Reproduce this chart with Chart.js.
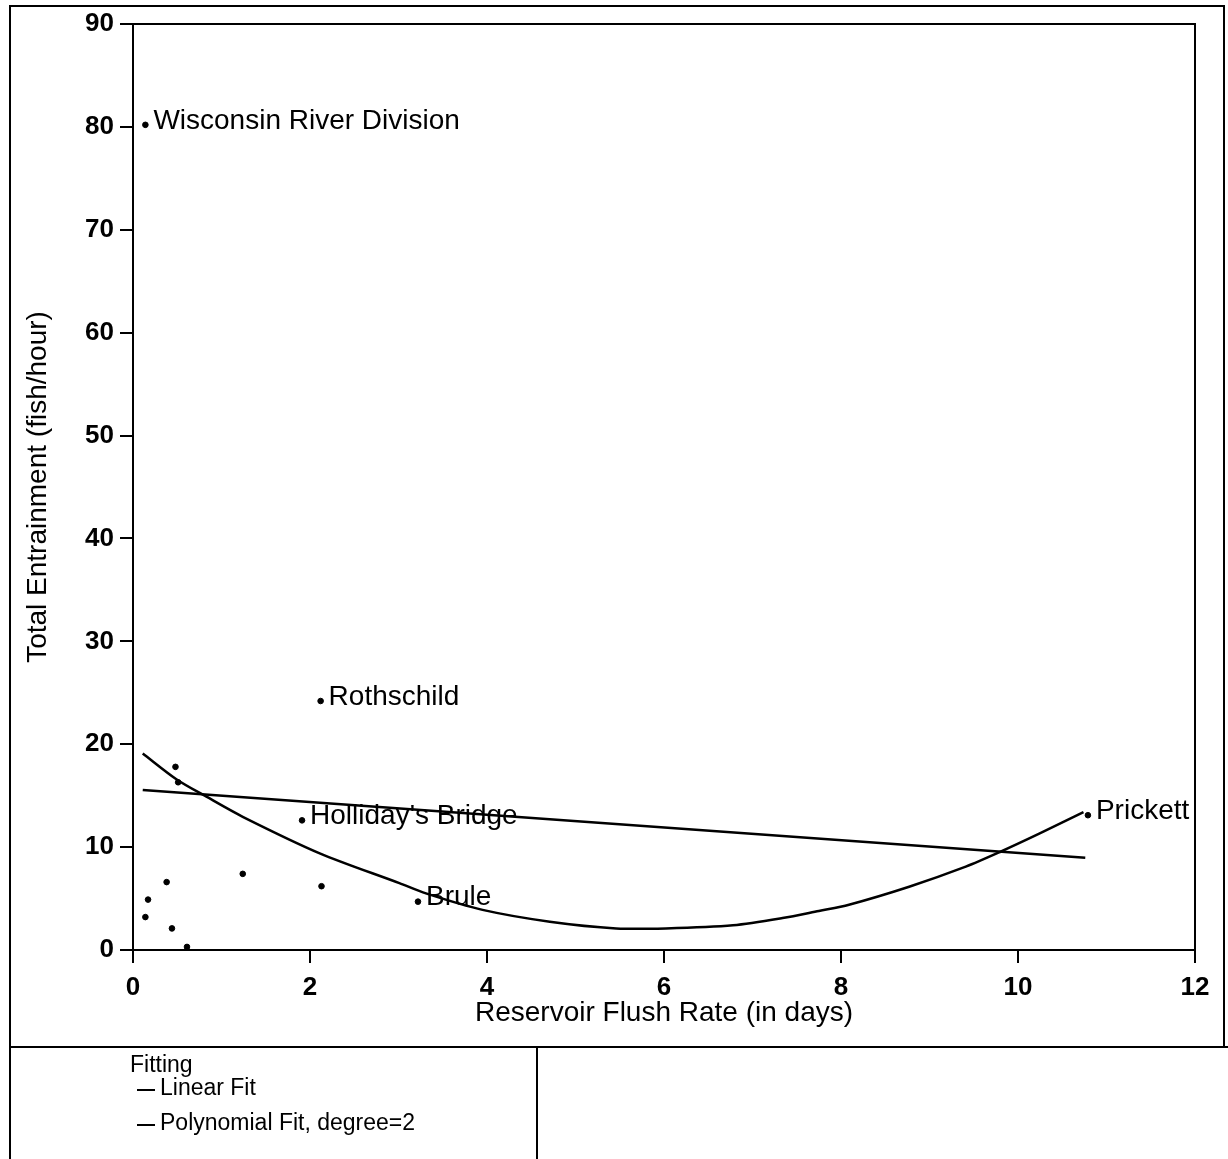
<!DOCTYPE html>
<html>
<head>
<meta charset="utf-8">
<script src="https://cdn.jsdelivr.net/npm/chart.js@4"></script>
<style>
  body { margin: 0; background: #fff; }
  #wrap { position: relative; width: 1228px; height: 1159px; }
</style>
</head>
<body>
<div id="wrap"><canvas id="chart"></canvas></div>
<script>
// Observed sites: flush rate (days) vs total entrainment (fish/hour)
const flushRate   = [0.14, 2.12, 1.91, 3.22, 10.79, 0.48, 0.51, 0.38, 0.17, 0.14, 0.44, 0.61, 1.24, 2.13];
const entrainment = [80.2, 24.2, 12.6, 4.7, 13.1, 17.8, 16.3, 6.6, 4.9, 3.2, 2.1, 0.3, 7.4, 6.2];
const siteNames   = ['Wisconsin River Division', 'Rothschild', "Holliday's Bridge", 'Brule', 'Prickett',
                     '', '', '', '', '', '', '', '', ''];

// Fitted lines
const linearX = [0.11, 10.76];
const linearY = [15.55, 8.97];
const polyX = [0.11, 0.49, 0.83, 1.24, 2.11, 3.01, 3.31, 3.95, 4.71, 5.46, 6.02, 6.78, 7.34, 7.75, 8.09, 8.77, 9.41, 9.79, 10.24, 10.74];
const polyY = [19.1, 16.6, 14.9, 12.95, 9.4, 6.5, 5.5, 3.9, 2.75, 2.1, 2.1, 2.4, 3.1, 3.8, 4.4, 6.15, 8.1, 9.5, 11.3, 13.4];

const xTicks = [0, 2, 4, 6, 8, 10, 12];
const yTicks = [0, 10, 20, 30, 40, 50, 60, 70, 80, 90];

const legendTitle = 'Fitting';
const legendItems = ['Linear Fit', 'Polynomial Fit, degree=2'];

const FONT = '"Liberation Sans", Arial, Helvetica, sans-serif';
Chart.defaults.font.family = FONT;
Chart.defaults.color = '#000';

const zip = (xs, ys) => xs.map((x, i) => ({ x: x, y: ys[i] }));

// Frame lines, point labels and the legend panel
const decorPlugin = {
    id: 'decor',
    afterDraw(chart) {
        const ctx = chart.ctx;
        const a = chart.chartArea;
        ctx.save();
        ctx.strokeStyle = '#000';
        ctx.lineWidth = 2;

        // top and right edges of the plot box
        ctx.beginPath();
        ctx.moveTo(a.left, a.top);
        ctx.lineTo(a.right, a.top);
        ctx.lineTo(a.right, a.bottom);
        ctx.stroke();

        // outer frame + legend panel
        ctx.beginPath();
        ctx.moveTo(10, 1159);
        ctx.lineTo(10, 6);
        ctx.lineTo(1224, 6);
        ctx.lineTo(1224, 1047);
        ctx.moveTo(10, 1047);
        ctx.lineTo(1228, 1047);
        ctx.moveTo(537, 1047);
        ctx.lineTo(537, 1159);
        ctx.stroke();

        // site names next to their points
        ctx.fillStyle = '#000';
        ctx.font = '28px ' + FONT;
        ctx.textBaseline = 'middle';
        ctx.textAlign = 'left';
        const pts = chart.getDatasetMeta(0).data;
        siteNames.forEach((name, i) => {
            if (!name) return;
            ctx.fillText(name, pts[i].x + 8, pts[i].y - 4);
        });

        // legend
        ctx.font = '23px ' + FONT;
        ctx.fillText(legendTitle, 130, 1066);
        const rowY = [1089, 1124];
        legendItems.forEach((label, i) => {
            ctx.beginPath();
            ctx.moveTo(137, rowY[i] + 1);
            ctx.lineTo(155, rowY[i] + 1);
            ctx.stroke();
            ctx.fillText(label, 160, rowY[i]);
        });
        ctx.restore();
    }
};

const axisGrid = {
    drawOnChartArea: false,
    drawTicks: true,
    tickLength: 13,
    color: '#000',
    lineWidth: 2
};

new Chart(document.getElementById('chart'), {
    type: 'scatter',
    data: {
        datasets: [
            {
                label: 'Sites',
                data: zip(flushRate, entrainment),
                backgroundColor: '#000',
                borderColor: '#000',
                pointRadius: 2.8,
                pointHoverRadius: 2.8,
                showLine: false
            },
            {
                label: legendItems[0],
                data: zip(linearX, linearY),
                showLine: true,
                borderColor: '#000',
                borderWidth: 2.5,
                pointRadius: 0,
                fill: false
            },
            {
                label: legendItems[1],
                data: zip(polyX, polyY),
                showLine: true,
                borderColor: '#000',
                borderWidth: 2.5,
                pointRadius: 0,
                tension: 0.3,
                fill: false
            }
        ]
    },
    options: {
        responsive: true,
        maintainAspectRatio: false,
        animation: false,
        layout: {
            padding: { top: 24, right: 33, bottom: 112, left: 0 }
        },
        plugins: {
            legend: { display: false },
            tooltip: { enabled: false }
        },
        scales: {
            x: {
                type: 'linear',
                min: 0,
                max: 12,
                afterBuildTicks: (scale) => { scale.ticks = xTicks.map(v => ({ value: v })); },
                afterFit: (scale) => { scale.height = 97; },
                grid: axisGrid,
                border: { display: true, color: '#000', width: 2 },
                ticks: {
                    font: { size: 26, weight: 'bold' },
                    padding: 9,
                    maxRotation: 0
                },
                title: {
                    display: true,
                    text: 'Reservoir Flush Rate (in days)',
                    font: { size: 28 },
                    padding: { top: 0, bottom: 17 }
                }
            },
            y: {
                type: 'linear',
                min: 0,
                max: 90,
                afterBuildTicks: (scale) => { scale.ticks = yTicks.map(v => ({ value: v })); },
                afterFit: (scale) => { scale.width = 133; },
                grid: axisGrid,
                border: { display: true, color: '#000', width: 2 },
                ticks: {
                    font: { size: 26, weight: 'bold' },
                    padding: 6
                },
                title: {
                    display: true,
                    text: 'Total Entrainment (fish/hour)',
                    font: { size: 28 },
                    padding: { top: 21, bottom: 0 }
                }
            }
        }
    },
    plugins: [decorPlugin]
});
</script>
</body>
</html>
